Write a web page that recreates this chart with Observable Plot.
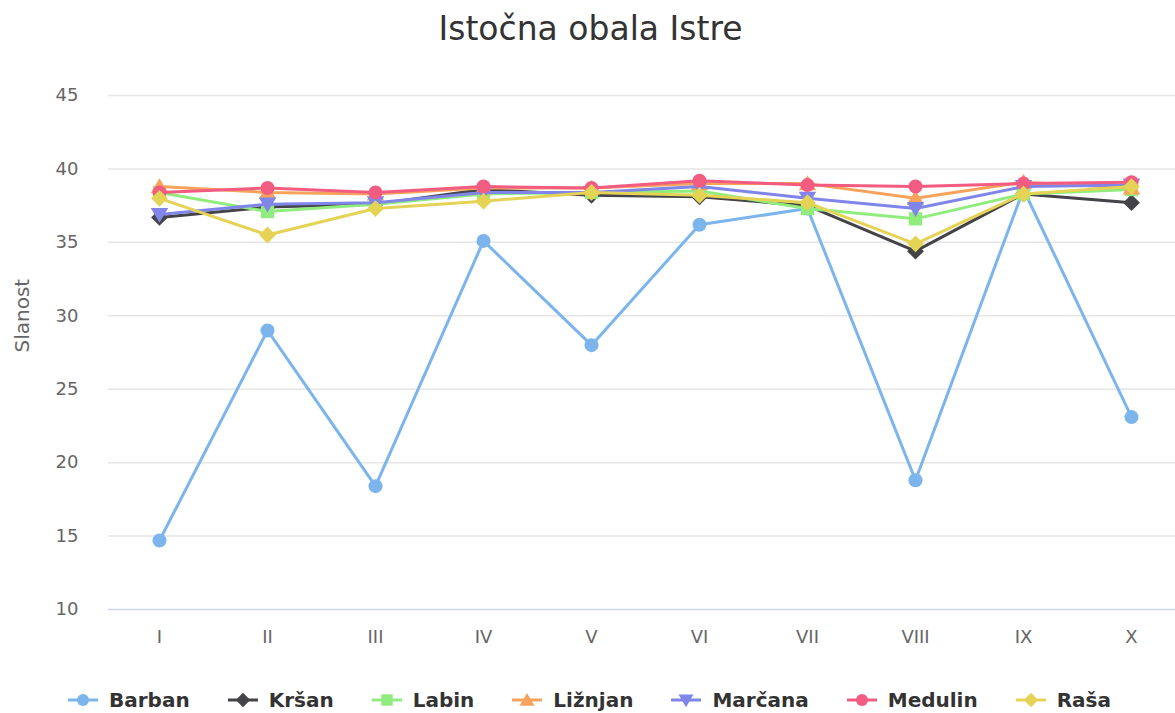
<!DOCTYPE html>
<html>
<head>
<meta charset="utf-8">
<script src="https://cdn.jsdelivr.net/npm/d3@7"></script>
<script src="https://cdn.jsdelivr.net/npm/@observablehq/plot@0.6"></script>
<style>
  body { margin: 0; background: #fff; font-family: "DejaVu Sans", sans-serif; }
  #title { height: 58px; line-height: 58px; text-align: center; font-size: 33px; color: #333; padding-left: 6px; }
  #chart svg { display: block; }
  #legend { display: flex; justify-content: center; align-items: center; margin-top: 11px; height: 22px; font-weight: bold; font-size: 20px; color: #333; padding-left: 4px; }
  .item { display: flex; align-items: center; margin: 0 19px; }
  .item svg { margin-right: 11px; }
</style>
</head>
<body>
<div id="title">Istočna obala Istre</div>
<div id="chart"></div>
<div id="legend"></div>
<script>
const months = ["I", "II", "III", "IV", "V", "VI", "VII", "VIII", "IX", "X"];
const seriesNames = ["Barban", "Kršan", "Labin", "Ližnjan", "Marčana", "Medulin", "Raša"];
const barban  = [14.7, 29.0, 18.4, 35.1, 28.0, 36.2, 37.3, 18.8, 38.6, 23.1];
const krsan   = [36.7, 37.4, 37.6, 38.6, 38.2, 38.1, 37.5, 34.4, 38.3, 37.7];
const labin   = [38.4, 37.1, 37.6, 38.3, 38.4, 38.5, 37.3, 36.6, 38.3, 38.6];
const liznjan = [38.8, 38.4, 38.3, 38.7, 38.7, 39.0, 39.0, 38.0, 39.1, 38.7];
const marcana = [36.9, 37.6, 37.7, 38.4, 38.4, 38.8, 38.0, 37.3, 38.8, 38.9];
const medulin = [38.4, 38.7, 38.4, 38.8, 38.7, 39.2, 38.9, 38.8, 39.0, 39.1];
const rasa    = [38.0, 35.5, 37.3, 37.8, 38.4, 38.2, 37.7, 34.9, 38.3, 38.8];
const yTicks = [10, 15, 20, 25, 30, 35, 40, 45];
const colors = ["#7cb5ec", "#434348", "#90ed7d", "#f7a35c", "#8085e9", "#f15c80", "#e4d354"];

const triangleDown = {
  draw(context, size) {
    const r = Math.sqrt(size / Math.PI) * 1.25;
    context.moveTo(-r, -r * 0.75);
    context.lineTo(r, -r * 0.75);
    context.lineTo(0, r * 0.95);
    context.closePath();
  }
};
const triangleUp = {
  draw(context, size) {
    const r = Math.sqrt(size / Math.PI) * 1.25;
    context.moveTo(-r, r * 0.75);
    context.lineTo(r, r * 0.75);
    context.lineTo(0, -r * 0.95);
    context.closePath();
  }
};
const diamond = {
  draw(context, size) {
    const r = Math.sqrt(size / Math.PI) * 1.2;
    context.moveTo(0, -r);
    context.lineTo(r, 0);
    context.lineTo(0, r);
    context.lineTo(-r, 0);
    context.closePath();
  }
};
const square = {
  draw(context, size) {
    const r = Math.sqrt(size / Math.PI) * 0.95;
    context.rect(-r, -r, 2 * r, 2 * r);
  }
};
const circle = {
  draw(context, size) {
    const r = Math.sqrt(size / Math.PI);
    context.moveTo(r, 0);
    context.arc(0, 0, r, 0, 2 * Math.PI);
  }
};
const symbols = [circle, diamond, square, triangleUp, triangleDown, circle, diamond];

const values = [barban, krsan, labin, liznjan, marcana, medulin, rasa];
const rows = [];
seriesNames.forEach((s, i) => values[i].forEach((v, j) => rows.push({series: s, month: months[j], value: v})));

const seriesMarks = [];
seriesNames.forEach((s, i) => {
  const d = rows.filter(r => r.series === s);
  seriesMarks.push(Plot.line(d, {x: "month", y: "value", stroke: colors[i], strokeWidth: 3, strokeLinejoin: "round"}));
  seriesMarks.push(Plot.dot(d, {x: "month", y: "value", fill: colors[i], symbol: symbols[i], r: 7, stroke: "none"}));
});

const chart = Plot.plot({
  width: 1175,
  height: 620,
  marginTop: 37,
  marginBottom: 69,
  marginLeft: 158,
  marginRight: 44,
  style: {fontFamily: "DejaVu Sans, sans-serif", fontSize: "18px", color: "#666", background: "#fff"},
  x: {type: "point", domain: months, padding: 0, label: null},
  y: {domain: [10, 45], label: null},
  marks: [
    Plot.ruleY(yTicks.filter(t => t > 10), {stroke: "#e6e6e6", strokeWidth: 1.5, insetLeft: -50, insetRight: -44}),
    Plot.ruleY([10], {stroke: "#ccd6eb", strokeWidth: 1.5, insetLeft: -50, insetRight: -44}),
    Plot.axisX({tickSize: 0, tickPadding: 21, fill: "#666", fontSize: 18}),
    Plot.axisY({ticks: yTicks, tickSize: 0, tickPadding: 80, fill: "#666", fontSize: 18}),
    Plot.text(["Slanost"], {frameAnchor: "left", rotate: -90, dx: -136, fill: "#666", fontSize: 20}),
    ...seriesMarks
  ]
});
document.getElementById("chart").appendChild(chart);

const legend = document.getElementById("legend");
seriesNames.forEach((s, i) => {
  const item = document.createElement("div");
  item.className = "item";
  const sw = d3.create("svg").attr("width", 30).attr("height", 20);
  sw.append("line").attr("x1", 0).attr("x2", 30).attr("y1", 10).attr("y2", 10).attr("stroke", colors[i]).attr("stroke-width", 3);
  sw.append("path").attr("transform", "translate(15,10)").attr("d", d3.symbol(symbols[i], Math.PI * 36)()).attr("fill", colors[i]);
  item.appendChild(sw.node());
  const t = document.createElement("span");
  t.textContent = s;
  item.appendChild(t);
  legend.appendChild(item);
});
</script>
</body>
</html>
